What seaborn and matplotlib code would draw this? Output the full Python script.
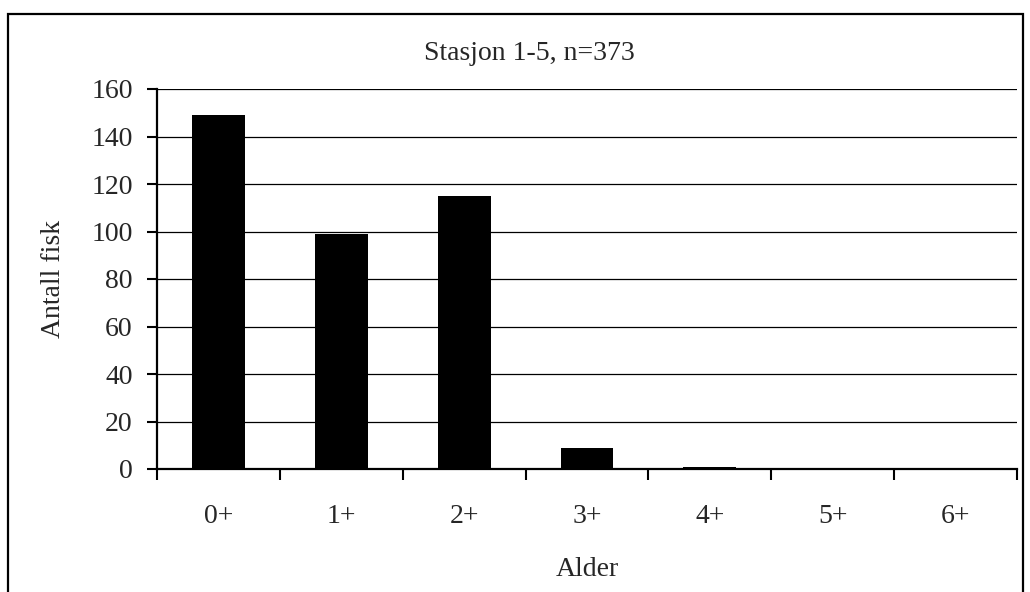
import matplotlib
matplotlib.use("Agg")
import matplotlib.pyplot as plt
from matplotlib.patches import Rectangle
from matplotlib.ticker import FixedLocator, NullFormatter
import seaborn as sns
import pandas as pd
import numpy as np

ages = ["0+", "1+", "2+", "3+", "4+", "5+", "6+"]
counts = [149, 99, 115, 9, 1, 0, 0]
y_ticks = [0, 20, 40, 60, 80, 100, 120, 140, 160]
title = "Stasjon 1-5, n=373"

sns.set_theme(style="white")
plt.rcParams["font.family"] = ["Liberation Serif", "DejaVu Serif"]

W, H = 1030, 592
FS = 20
fig = plt.figure(figsize=(W / 100, H / 100), dpi=100)
fig.patch.set_facecolor("white")

# outer chart frame
fig.patches.append(Rectangle((8 / W, -0.01), 1015 / W, (H - 14) / H + 0.01,
                             transform=fig.transFigure, fill=False,
                             edgecolor="black", linewidth=1.6))

ax = fig.add_axes([157 / W, (H - 469) / H, 860 / W, 380 / H])
df = pd.DataFrame({"Alder": ages, "Antall": counts})
sns.barplot(data=df, x="Alder", y="Antall", color="black", saturation=1,
            width=0.43, ax=ax, zorder=3, linewidth=0, edgecolor="black")

ax.set_xlim(-0.5, len(ages) - 0.5)
ax.set_ylim(0, 160)
ax.set_yticks(y_ticks)
ax.yaxis.grid(True, color="black", linewidth=0.9)
ax.set_axisbelow(True)

# category boundaries as major ticks, labels on minor ticks at centres
ax.xaxis.set_major_locator(FixedLocator(np.arange(-0.5, len(ages), 1.0)))
ax.xaxis.set_major_formatter(NullFormatter())
ax.xaxis.set_minor_locator(FixedLocator(np.arange(len(ages))))
ax.set_xticklabels(ages, minor=True)
ax.tick_params(axis="x", which="major", direction="out", length=8, width=1.5,
               color="black", bottom=True)
ax.tick_params(axis="x", which="minor", length=0, pad=25, labelsize=FS)
ax.tick_params(axis="y", direction="out", length=7.5, width=1.5, color="black",
               left=True, labelsize=FS, pad=10)

for side in ("top", "right"):
    ax.spines[side].set_visible(False)
for side in ("left", "bottom"):
    ax.spines[side].set_color("black")
    ax.spines[side].set_linewidth(1.6)

ax.set_xlabel("")
ax.set_ylabel("")
fig.text(53 / W, 1 - 279 / H, "Antall fisk", rotation=90, ha="center",
         va="center", fontsize=FS)
fig.text(587 / W, 1 - 569 / H, "Alder", ha="center", va="center", fontsize=FS)
fig.text(529 / W, 1 - 53 / H, title, ha="center", va="center", fontsize=FS)

fig.savefig("out.png", dpi=100, facecolor="white")
